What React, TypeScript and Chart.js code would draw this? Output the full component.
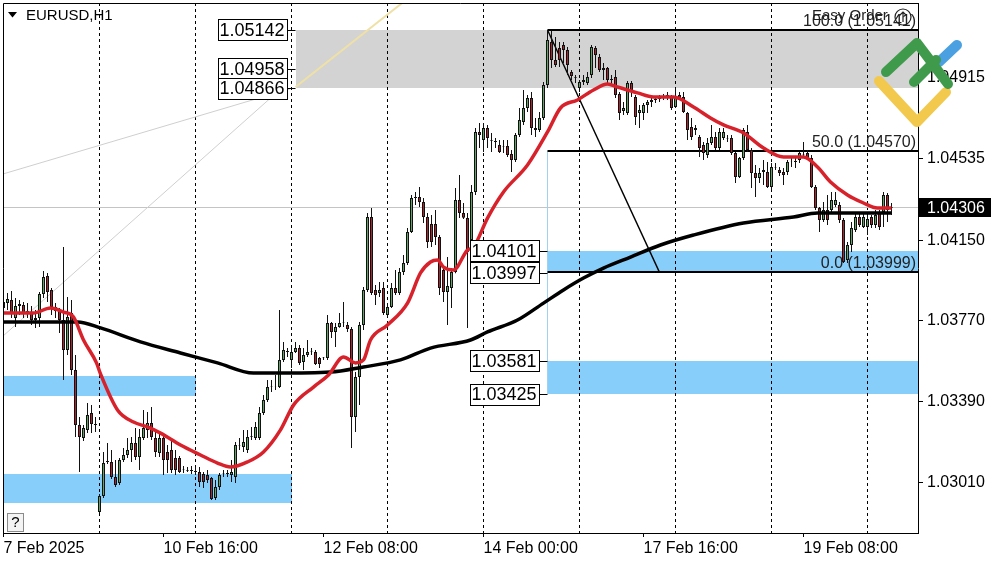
import React, { useEffect, useRef } from "react";
import { Chart, registerables } from "chart.js";

Chart.register(...registerables);

const FONT = '"Liberation Sans", Arial, sans-serif';

// ---------- candles (EURUSD H1, one per bar index) ----------
const openP = [
  1.03831,1.03854,1.03869,1.03784,1.03840,1.03845,1.03807,1.03812,1.03774,1.03784,
  1.03897,1.03982,1.03916,1.03836,1.03817,1.03774,1.03633,1.03807,1.03538,1.03279,
  1.03218,1.03256,1.03336,1.03284,1.02869,1.02944,1.03105,1.03105,1.03034,1.03006,
  1.03114,1.03138,1.03161,1.03194,1.03128,1.03218,1.03256,1.03289,1.03218,1.03147,
  1.03218,1.03152,1.03161,1.03124,1.03124,1.03072,1.03067,1.03067,1.03062,1.03058,
  1.03048,1.03043,1.03029,1.02935,1.02987,1.03053,1.03053,1.03043,1.03034,1.03180,
  1.03175,1.03161,1.03223,1.03218,1.03218,1.03336,1.03397,1.03458,1.03458,1.03458,
  1.03586,1.03623,1.03586,1.03623,1.03642,1.03576,1.03609,1.03623,1.03623,1.03595,
  1.03595,1.03595,1.03760,1.03718,1.03741,1.03760,1.03751,1.03732,1.03317,1.03505,
  1.03751,1.03916,1.04260,1.03916,1.03902,1.03925,1.03798,1.03836,1.03925,1.03902,
  1.04001,1.04043,1.04189,1.04349,1.04354,1.04331,1.04260,1.04227,1.04227,1.04166,
  1.04010,1.03906,1.03925,1.04001,1.04340,1.04279,1.04255,1.04151,1.04378,1.04661,
  1.04623,1.04680,1.04623,1.04618,1.04599,1.04590,1.04595,1.04557,1.04529,1.04647,
  1.04708,1.04774,1.04821,1.04680,1.04670,1.04727,1.04882,1.05085,1.05000,1.05057,
  1.05071,1.05047,1.04944,1.04920,1.04868,1.04896,1.04892,1.04929,1.05057,1.05014,
  1.04962,1.04962,1.04911,1.04920,1.04840,1.04760,1.04750,1.04892,1.04826,1.04750,
  1.04750,1.04788,1.04802,1.04812,1.04816,1.04821,1.04826,1.04826,1.04779,1.04835,
  1.04826,1.04750,1.04684,1.04680,1.04637,1.04599,1.04552,1.04609,1.04637,1.04585,
  1.04632,1.04632,1.04632,1.04562,1.04448,1.04538,1.04661,1.04576,1.04467,1.04444,
  1.04472,1.04472,1.04401,1.04496,1.04481,1.04472,1.04472,1.04519,1.04519,1.04529,
  1.04552,1.04562,1.04538,1.04401,1.04302,1.04246,1.04293,1.04293,1.04316,1.04316,
  1.04246,1.04057,1.04128,1.04199,1.04260,1.04213,1.04213,1.04260,1.04222,1.04279,
  1.04283,1.04364,1.04302,
];
const highP = [
  1.03878,1.03902,1.03911,1.03878,1.03869,1.03859,1.03854,1.03840,1.03821,1.03906,
  1.04005,1.03996,1.03925,1.03854,1.03831,1.04118,1.03883,1.03869,1.03609,1.03317,
  1.03279,1.03383,1.03373,1.03317,1.02954,1.03152,1.03194,1.03161,1.03114,1.03124,
  1.03171,1.03218,1.03223,1.03265,1.03260,1.03350,1.03340,1.03364,1.03256,1.03241,
  1.03241,1.03185,1.03208,1.03161,1.03133,1.03086,1.03081,1.03086,1.03081,1.03081,
  1.03058,1.03067,1.03034,1.03020,1.03053,1.03067,1.03067,1.03114,1.03199,1.03218,
  1.03256,1.03256,1.03270,1.03293,1.03364,1.03421,1.03491,1.03491,1.03515,1.03821,
  1.03671,1.03642,1.03656,1.03671,1.03656,1.03642,1.03680,1.03642,1.03633,1.03600,
  1.03600,1.03798,1.03765,1.03760,1.03807,1.03859,1.03765,1.03741,1.03529,1.03765,
  1.03930,1.04279,1.04302,1.03939,1.03953,1.03953,1.03854,1.03949,1.04010,1.04019,
  1.04081,1.04208,1.04364,1.04378,1.04401,1.04349,1.04279,1.04269,1.04293,1.04175,
  1.04019,1.04071,1.04019,1.04397,1.04458,1.04326,1.04279,1.04411,1.04680,1.04703,
  1.04703,1.04694,1.04656,1.04632,1.04623,1.04623,1.04623,1.04576,1.04656,1.04774,
  1.04859,1.04835,1.04849,1.04727,1.04755,1.04896,1.05142,1.05138,1.05109,1.05085,
  1.05085,1.05061,1.04953,1.04929,1.04906,1.04929,1.04944,1.05071,1.05066,1.05028,
  1.04986,1.04967,1.04929,1.04953,1.04849,1.04802,1.04901,1.04901,1.04835,1.04788,
  1.04797,1.04812,1.04821,1.04826,1.04835,1.04840,1.04849,1.04835,1.04868,1.04849,
  1.04849,1.04755,1.04727,1.04694,1.04647,1.04614,1.04632,1.04694,1.04661,1.04680,
  1.04680,1.04647,1.04647,1.04566,1.04543,1.04680,1.04694,1.04585,1.04505,1.04491,
  1.04529,1.04519,1.04515,1.04515,1.04496,1.04491,1.04529,1.04538,1.04538,1.04566,
  1.04614,1.04576,1.04552,1.04411,1.04307,1.04331,1.04364,1.04378,1.04378,1.04331,
  1.04255,1.04142,1.04236,1.04283,1.04279,1.04279,1.04269,1.04269,1.04293,1.04293,
  1.04378,1.04373,1.04326,
];
const lowP = [
  1.03812,1.03821,1.03784,1.03741,1.03798,1.03784,1.03784,1.03751,1.03737,1.03741,
  1.03878,1.03859,1.03798,1.03784,1.03713,1.03491,1.03609,1.03515,1.03223,1.03058,
  1.03204,1.03241,1.03241,1.03246,1.02864,1.02935,1.03095,1.03025,1.02987,1.02996,
  1.03105,1.03124,1.03105,1.03114,1.03067,1.03208,1.03218,1.03208,1.03128,1.03128,
  1.03043,1.03053,1.03053,1.03043,1.03053,1.03053,1.03058,1.03048,1.03043,1.02987,
  1.02982,1.03006,1.02926,1.02926,1.02973,1.03034,1.03034,1.03010,1.03006,1.03161,
  1.03152,1.03147,1.03208,1.03208,1.03208,1.03326,1.03388,1.03435,1.03444,1.03454,
  1.03576,1.03600,1.03548,1.03619,1.03562,1.03538,1.03600,1.03609,1.03562,1.03548,
  1.03586,1.03586,1.03689,1.03647,1.03738,1.03741,1.03718,1.03171,1.03246,1.03373,
  1.03727,1.03906,1.03892,1.03845,1.03883,1.03798,1.03788,1.03831,1.03892,1.03892,
  1.03986,1.04034,1.04184,1.04316,1.04307,1.04232,1.04114,1.04118,1.04128,1.03892,
  1.03859,1.03751,1.03831,1.03995,1.04255,1.04250,1.03737,1.04104,1.04364,1.04585,
  1.04566,1.04585,1.04566,1.04585,1.04562,1.04562,1.04543,1.04472,1.04519,1.04637,
  1.04694,1.04755,1.04647,1.04637,1.04661,1.04717,1.04868,1.04962,1.04967,1.04967,
  1.04986,1.04929,1.04906,1.04892,1.04849,1.04882,1.04882,1.04915,1.04962,1.04944,
  1.04906,1.04882,1.04882,1.04821,1.04717,1.04741,1.04741,1.04826,1.04694,1.04680,
  1.04717,1.04750,1.04779,1.04797,1.04802,1.04812,1.04812,1.04764,1.04774,1.04812,
  1.04750,1.04623,1.04623,1.04647,1.04543,1.04529,1.04538,1.04599,1.04576,1.04576,
  1.04623,1.04614,1.04552,1.04420,1.04444,1.04529,1.04566,1.04397,1.04354,1.04420,
  1.04411,1.04397,1.04387,1.04481,1.04453,1.04411,1.04458,1.04496,1.04491,1.04515,
  1.04538,1.04529,1.04397,1.04293,1.04189,1.04236,1.04222,1.04283,1.04307,1.04232,
  1.04043,1.04043,1.04095,1.04189,1.04213,1.04208,1.04175,1.04208,1.04208,1.04199,
  1.04213,1.04236,1.04269,
];
const closeP = [
  1.03859,1.03873,1.03807,1.03840,1.03850,1.03803,1.03817,1.03774,1.03784,1.03897,
  1.03977,1.03906,1.03836,1.03817,1.03774,1.03633,1.03788,1.03538,1.03279,1.03223,
  1.03265,1.03326,1.03284,1.03279,1.02944,1.03100,1.03109,1.03034,1.02996,1.03114,
  1.03138,1.03161,1.03194,1.03128,1.03223,1.03265,1.03289,1.03223,1.03152,1.03218,
  1.03114,1.03114,1.03067,1.03067,1.03058,1.03069,1.03064,1.03062,1.03058,1.03010,
  1.03010,1.03020,1.02930,1.02987,1.03043,1.03050,1.03048,1.03058,1.03185,1.03183,
  1.03199,1.03223,1.03226,1.03270,1.03336,1.03397,1.03458,1.03461,1.03460,1.03586,
  1.03633,1.03628,1.03623,1.03642,1.03572,1.03609,1.03623,1.03626,1.03567,1.03567,
  1.03597,1.03760,1.03718,1.03741,1.03760,1.03762,1.03732,1.03317,1.03505,1.03751,
  1.03916,1.04260,1.03902,1.03892,1.03916,1.03807,1.03836,1.03925,1.03902,1.04001,
  1.04043,1.04189,1.04349,1.04354,1.04331,1.04260,1.04142,1.04142,1.04166,1.03925,
  1.03906,1.03935,1.04001,1.04340,1.04279,1.04257,1.04095,1.04378,1.04661,1.04647,
  1.04680,1.04632,1.04620,1.04614,1.04566,1.04592,1.04552,1.04529,1.04647,1.04717,
  1.04774,1.04821,1.04680,1.04670,1.04727,1.04882,1.05094,1.05000,1.04977,1.05000,
  1.05047,1.04977,1.04925,1.04917,1.04896,1.04906,1.04920,1.05061,1.05024,1.04953,
  1.04953,1.04906,1.04906,1.04835,1.04750,1.04774,1.04892,1.04859,1.04731,1.04764,
  1.04788,1.04802,1.04812,1.04816,1.04821,1.04826,1.04835,1.04774,1.04826,1.04821,
  1.04755,1.04670,1.04637,1.04670,1.04585,1.04562,1.04609,1.04637,1.04585,1.04661,
  1.04661,1.04630,1.04562,1.04448,1.04538,1.04670,1.04576,1.04467,1.04444,1.04467,
  1.04481,1.04401,1.04496,1.04493,1.04467,1.04458,1.04519,1.04521,1.04524,1.04562,
  1.04555,1.04538,1.04401,1.04302,1.04246,1.04293,1.04246,1.04340,1.04340,1.04246,
  1.04048,1.04128,1.04208,1.04260,1.04222,1.04260,1.04250,1.04222,1.04269,1.04213,
  1.04364,1.04293,1.04306,
];

// ---------- moving averages (bar index, value) ----------
const maRedBar = [0,2.5,7.5,11.75,15,17.5,20,23.25,24.25,28.5,32.5,36,39.25,44.25,49.25,53.5,56.75,61,65,69.25,72.5,77.5,81.25,85,88,90,91.75,96,101,104.25,106.75,108.5,110,112.5,116,117.5,121,125,131,136,139.25,143.5,147.5,151,153.5,158.5,162.5,167.5,172.5,176.75,180,185,190,195,200,203.5,206.75,211,215,218.5,222];
const maRedVal = [1.03807,1.03807,1.03807,1.03831,1.03812,1.03788,1.03680,1.03572,1.03520,1.03350,1.03293,1.03270,1.03241,1.03185,1.03138,1.03100,1.03081,1.03105,1.03152,1.03256,1.03373,1.03458,1.03515,1.03600,1.03572,1.03586,1.03680,1.03751,1.03854,1.03996,1.04048,1.04057,1.04024,1.04010,1.04104,1.04118,1.04255,1.04378,1.04505,1.04661,1.04774,1.04812,1.04859,1.04887,1.04873,1.04845,1.04826,1.04826,1.04779,1.04727,1.04694,1.04656,1.04585,1.04543,1.04543,1.04496,1.04425,1.04364,1.04326,1.04302,1.04302];
const maBlackBar = [0,18.5,24.25,34.25,44.25,53.5,62.5,68.5,81.75,90,99.25,106.75,116.75,121,128.5,135,140,145,150,156.75,164.25,172.5,185,197.5,203.5,222];
const maBlackVal = [1.03765,1.03765,1.03737,1.03671,1.03619,1.03572,1.03524,1.03524,1.03529,1.03553,1.03586,1.03642,1.03680,1.03718,1.03774,1.03854,1.03916,1.03972,1.04019,1.04071,1.04128,1.04175,1.04232,1.04260,1.04279,1.04279];

// ---------- axes ----------
const yTickVals = [1.04915, 1.04535, 1.0415, 1.0377, 1.0339, 1.0301];
const xTickBars = [0, 40, 80, 120, 160, 200];
const xTickLabels = ["7 Feb 2025", "10 Feb 16:00", "12 Feb 08:00", "14 Feb 00:00", "17 Feb 16:00", "19 Feb 08:00"];
const dayBars = [24, 48, 72, 96, 120, 144, 168, 192, 216];
const bidPrice = 1.04306;
const Y_MIN = 1.0277;
const Y_MAX = 1.05269;
const X_MIN = -0.125;
const X_MAX = 228.625;

// ---------- drawn objects ----------
const greyZone = [73, 240, 1.05142, 1.04866];
const blueZones = [
  [-2, 48, 1.0351, 1.03416],
  [-2, 72, 1.03048, 1.02911],
  [136, 240, 1.04101, 1.03997],
  [136, 240, 1.03581, 1.03425],
];
const leftLabelBar = 73;
const leftLabels = [1.05142, 1.04958, 1.04866];
const rightLabelBar = 136;
const rightLabels = [1.04101, 1.03997, 1.03581, 1.03425];
const fibBars = [136, 164];
const fibPrices = [1.05142, 1.03999];
const fibLevels = [100, 50, 0];
const fibLevelPrices = [1.05141, 1.0457, 1.03999];
const fanLineA = [[-0.1, 1.04463], [71.6, 1.04864]];
const fanLineB = [[-0.1, 1.03699], [70.4, 1.04882]];
const yellowLine = [[73, 1.04873], [100, 1.05274]];

const overlayPlugin = {
  id: "overlay",
  beforeDatasetsDraw(chart: any) {
    const { ctx, chartArea: ca } = chart;
    const X = (v: number) => chart.scales.x.getPixelForValue(v);
    const Y = (v: number) => chart.scales.y.getPixelForValue(v);
    const rect = (x0: number, y0: number, x1: number, y1: number) => {
      const a = Math.round(x0), b = Math.round(y0);
      ctx.fillRect(a, b, Math.round(x1) - a, Math.round(y1) - b);
    };
    ctx.save();
    ctx.beginPath();
    ctx.rect(ca.left, ca.top, ca.right - ca.left, ca.bottom - ca.top);
    ctx.clip();
    ctx.fillStyle = "#d3d3d3";
    rect(X(greyZone[0]), Y(greyZone[2]), X(greyZone[1]), Y(greyZone[3]));
    ctx.fillStyle = "#87cefa";
    blueZones.forEach(([b0, b1, hi, lo]) => rect(X(b0), Y(hi), X(b1), Y(lo)));

    // day separators
    ctx.strokeStyle = "#000";
    ctx.lineWidth = 1;
    ctx.setLineDash([3, 3]);
    dayBars.forEach((b) => {
      const px = Math.round(X(b) - 0.5) + 0.5;
      ctx.beginPath();
      ctx.moveTo(px, ca.top);
      ctx.lineTo(px, ca.bottom);
      ctx.stroke();
    });
    ctx.setLineDash([]);

    // bid line
    const by = Math.round(Y(bidPrice) - 0.5) + 0.5;
    ctx.strokeStyle = "#c4c4c4";
    ctx.beginPath();
    ctx.moveTo(ca.left, by);
    ctx.lineTo(ca.right, by);
    ctx.stroke();

    // thin fan lines
    ctx.strokeStyle = "#cfcfcf";
    [fanLineA, fanLineB].forEach((ln) => {
      ctx.beginPath();
      ctx.moveTo(X(ln[0][0]), Y(ln[0][1]));
      ctx.lineTo(X(ln[1][0]), Y(ln[1][1]));
      ctx.stroke();
    });
    ctx.strokeStyle = "#efe1a6";
    ctx.lineWidth = 2;
    ctx.beginPath();
    ctx.moveTo(X(yellowLine[0][0]), Y(yellowLine[0][1]));
    ctx.lineTo(X(yellowLine[1][0]), Y(yellowLine[1][1]));
    ctx.stroke();

    // fib vertical
    const fx = Math.round(X(fibBars[0]) - 0.5) + 0.5;
    ctx.strokeStyle = "#9fd2ee";
    ctx.lineWidth = 1;
    ctx.beginPath();
    ctx.moveTo(fx, Y(fibLevelPrices[1]));
    ctx.lineTo(fx, Y(rightLabels[3]));
    ctx.stroke();

    // fib levels
    ctx.strokeStyle = "#000";
    ctx.lineWidth = 2;
    fibLevelPrices.forEach((p) => {
      const yy = Math.round(Y(p));
      ctx.beginPath();
      ctx.moveTo(X(fibBars[0]), yy);
      ctx.lineTo(ca.right, yy);
      ctx.stroke();
    });
    // fib trend line
    ctx.lineWidth = 1.4;
    ctx.beginPath();
    ctx.moveTo(X(fibBars[0]), Y(fibPrices[0]));
    ctx.lineTo(X(fibBars[1]), Y(fibPrices[1]));
    ctx.stroke();
    ctx.restore();
  },
  afterDatasetsDraw(chart: any) {
    const { ctx, chartArea: ca } = chart;
    const X = (v: number) => chart.scales.x.getPixelForValue(v);
    const Y = (v: number) => chart.scales.y.getPixelForValue(v);
    ctx.save();
    const box = (right: number, anchor: number, p: number) => {
      const yy = Y(p);
      const w = 69, h = 21;
      const l = Math.round(right - w) + 0.5, t = Math.round(yy - h / 2) + 0.5;
      ctx.fillStyle = "#fff";
      ctx.fillRect(l, t, w, h);
      ctx.strokeStyle = "#000";
      ctx.lineWidth = 1;
      ctx.strokeRect(l, t, w, h);
      ctx.beginPath();
      ctx.moveTo(l + w, Math.round(yy) + 0.5);
      ctx.lineTo(anchor, Math.round(yy) + 0.5);
      ctx.stroke();
      ctx.fillStyle = "#000";
      ctx.font = `18px ${FONT}`;
      ctx.textAlign = "right";
      ctx.textBaseline = "middle";
      ctx.fillText(p.toFixed(5), l + w - 3, yy + 1);
    };
    const la = X(leftLabelBar);
    leftLabels.forEach((p) => box(la - 9, la, p));
    const ra = X(rightLabelBar);
    rightLabels.forEach((p) => box(ra - 9, ra, p));

    // fib texts
    ctx.fillStyle = "#222";
    ctx.font = `16px ${FONT}`;
    ctx.textAlign = "right";
    ctx.textBaseline = "alphabetic";
    fibLevels.forEach((lv, i) => {
      ctx.fillText(`${lv.toFixed(1)} (${fibLevelPrices[i].toFixed(5)})`, ca.right - 2, Y(fibLevelPrices[i]) - 4);
    });
    ctx.restore();
  },
  afterDraw(chart: any) {
    const { ctx, chartArea: ca } = chart;
    const Y = (v: number) => chart.scales.y.getPixelForValue(v);
    ctx.save();
    // frame top / left
    ctx.strokeStyle = "#000";
    ctx.lineWidth = 1;
    ctx.beginPath();
    ctx.moveTo(ca.left + 0.5, ca.bottom);
    ctx.lineTo(ca.left + 0.5, ca.top + 0.5);
    ctx.lineTo(ca.right, ca.top + 0.5);
    ctx.stroke();

    // bid label on axis
    const by = Y(bidPrice);
    ctx.fillStyle = "#000";
    ctx.fillRect(ca.right + 1, Math.round(by - 9.5), 72, 19);
    ctx.fillStyle = "#fff";
    ctx.font = `16px ${FONT}`;
    ctx.textAlign = "left";
    ctx.textBaseline = "middle";
    ctx.fillText(bidPrice.toFixed(5), 927, by + 1);

    // title
    ctx.fillStyle = "#000";
    ctx.beginPath();
    ctx.moveTo(8, 12);
    ctx.lineTo(17, 12);
    ctx.lineTo(12.5, 17.5);
    ctx.closePath();
    ctx.fill();
    ctx.font = `15px ${FONT}`;
    ctx.textAlign = "left";
    ctx.textBaseline = "middle";
    ctx.fillText("EURUSD,H1", 26, 16);

    // help box
    ctx.fillStyle = "#f4f4f4";
    ctx.fillRect(7.5, 513.5, 16, 18);
    ctx.strokeStyle = "#8a8a8a";
    ctx.strokeRect(7.5, 513.5, 16, 18);
    ctx.fillStyle = "#000";
    ctx.font = `15px ${FONT}`;
    ctx.textAlign = "center";
    ctx.fillText("?", 15.5, 523);

    // Easy Order
    ctx.fillStyle = "#222";
    ctx.font = `15px ${FONT}`;
    ctx.textAlign = "left";
    ctx.fillText("Easy Order", 812, 16);
    ctx.strokeStyle = "#222";
    ctx.lineWidth = 1.2;
    ctx.beginPath();
    ctx.arc(903, 17, 8, 0, Math.PI * 2);
    ctx.stroke();
    ctx.beginPath();
    ctx.moveTo(903, 22);
    ctx.lineTo(903, 12);
    ctx.moveTo(899.5, 15.5);
    ctx.lineTo(903, 12);
    ctx.lineTo(906.5, 15.5);
    ctx.stroke();

    // logo
    ctx.lineCap = "round";
    ctx.lineJoin = "round";
    ctx.lineWidth = 10;
    ctx.strokeStyle = "#f2c94c";
    ctx.beginPath();
    ctx.moveTo(879, 81);
    ctx.lineTo(917, 122);
    ctx.lineTo(946, 92);
    ctx.stroke();
    ctx.strokeStyle = "#4aa0e0";
    ctx.beginPath();
    ctx.moveTo(939, 62);
    ctx.lineTo(957, 45);
    ctx.stroke();
    ctx.strokeStyle = "#3f9a4b";
    ctx.beginPath();
    ctx.moveTo(886, 72);
    ctx.lineTo(917, 43);
    ctx.lineTo(948, 84);
    ctx.stroke();
    ctx.beginPath();
    ctx.moveTo(914, 82);
    ctx.lineTo(936, 60);
    ctx.stroke();
    ctx.restore();
  },
};

export default function App() {
  const ref = useRef<HTMLCanvasElement>(null);
  useEffect(() => {
    const canvas = ref.current;
    if (!canvas) return;
    const idx = openP.map((_, i) => i);
    const chart = new Chart(canvas, {
      type: "bar",
      data: {
        datasets: [
          {
            type: "line",
            data: maRedBar.map((b, i) => ({ x: b, y: maRedVal[i] })),
            borderColor: "#d8222b",
            borderWidth: 3.5,
            pointRadius: 0,
            cubicInterpolationMode: "monotone",
            order: 0,
          } as any,
          {
            type: "line",
            data: maBlackBar.map((b, i) => ({ x: b, y: maBlackVal[i] })),
            borderColor: "#000",
            borderWidth: 3.5,
            pointRadius: 0,
            cubicInterpolationMode: "monotone",
            order: 1,
          } as any,
          {
            type: "bar",
            data: idx.map((i) => ({ x: i, y: [openP[i], closeP[i]] })),
            backgroundColor: idx.map((i) => (closeP[i] >= openP[i] ? "#63a365" : "#a8282d")),
            borderColor: "#111",
            borderWidth: 1,
            borderSkipped: false,
            barThickness: 3,
            grouped: false,
            inflateAmount: 0,
            order: 2,
          } as any,
          {
            type: "bar",
            data: idx.map((i) => ({ x: i, y: [lowP[i], highP[i]] })),
            backgroundColor: "#111",
            borderWidth: 0,
            barThickness: 1,
            grouped: false,
            inflateAmount: 0,
            order: 3,
          } as any,
        ],
      },
      options: {
        animation: false,
        responsive: false,
        devicePixelRatio: 1,
        events: [],
        layout: { padding: { left: 3, top: 3, right: 0, bottom: 0 } },
        plugins: { legend: { display: false }, tooltip: { enabled: false } },
        scales: {
          x: {
            type: "linear",
            min: X_MIN,
            max: X_MAX,
            offset: false,
            afterBuildTicks: (s: any) => {
              s.ticks = xTickBars.map((v) => ({ value: v }));
            },
            afterFit: (s: any) => {
              s.height = 29;
              s.paddingLeft = 0;
              s.paddingRight = 0;
            },
            grid: { drawOnChartArea: false, offset: false, tickLength: 4, tickColor: "#000" },
            border: { display: true, color: "#000", width: 1 },
            ticks: {
              align: "start",
              maxRotation: 0,
              autoSkip: false,
              padding: 2,
              color: "#000",
              font: { family: FONT, size: 16 },
              callback: (_v: any, i: number) => xTickLabels[i],
            },
          },
          y: {
            type: "linear",
            position: "right",
            min: Y_MIN,
            max: Y_MAX,
            afterBuildTicks: (s: any) => {
              s.ticks = yTickVals.map((v) => ({ value: v }));
            },
            afterFit: (s: any) => {
              s.width = 82;
              s.paddingTop = 0;
              s.paddingBottom = 0;
            },
            grid: { drawOnChartArea: false, tickLength: 5, tickColor: "#000" },
            border: { display: true, color: "#000", width: 1 },
            ticks: {
              padding: 4,
              autoSkip: false,
              color: "#000",
              font: { family: FONT, size: 16 },
              callback: (v: any) => Number(v).toFixed(5),
            },
          },
        },
      } as any,
      plugins: [overlayPlugin],
    });
    return () => chart.destroy();
  }, []);
  return (
    <div style={{ position: "fixed", left: 0, top: 0, width: 1000, height: 562, background: "#fff" }}>
      <canvas ref={ref} width={1000} height={562} style={{ display: "block" }} />
    </div>
  );
}
